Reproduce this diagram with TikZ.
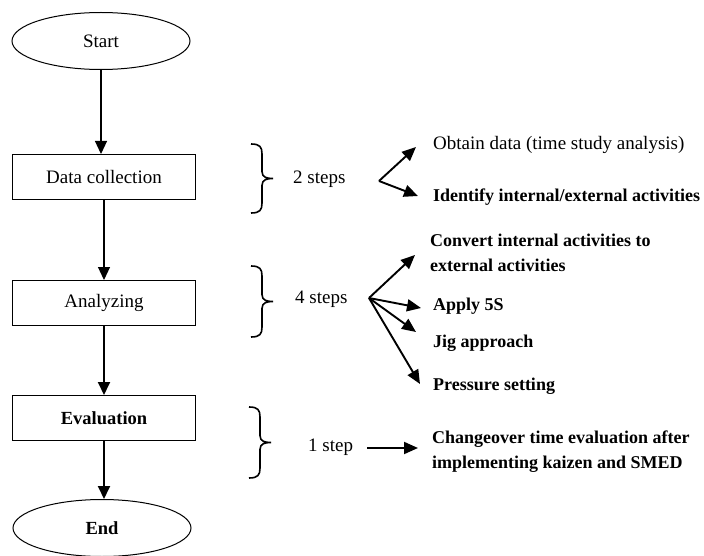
\documentclass[tikz,border=0pt]{standalone}
\usepackage{fontspec}
\setmainfont{Liberation Serif}
\usetikzlibrary{arrows.meta,shapes.geometric}
\newcommand\curlybrace[3]{% x, top, bottom
  \draw[brc] (#1,#2) .. controls ({#1+9},#2) and ({#1+11},{#2+3}) .. ({#1+11},{#2+10})
    -- ({#1+11},{(#2+#3)/2-7}) .. controls ({#1+11},{(#2+#3)/2-1}) and ({#1+16},{(#2+#3)/2}) .. ({#1+22},{(#2+#3)/2})
    .. controls ({#1+16},{(#2+#3)/2}) and ({#1+11},{(#2+#3)/2+1}) .. ({#1+11},{(#2+#3)/2+7})
    -- ({#1+11},{#3-10}) .. controls ({#1+11},{#3-3}) and ({#1+9},#3) .. (#1,#3);}
\begin{document}
\begin{tikzpicture}[x=1pt,y=-1pt,
  proc/.style={draw,line width=1pt,minimum width=183pt,minimum height=45pt,inner sep=0pt,font=\fontsize{19}{22}\selectfont},
  term/.style={draw,ellipse,line width=1pt,minimum width=178pt,minimum height=57pt,inner sep=0pt,font=\fontsize{19}{22}\selectfont},
  flow/.style={line width=1.2pt,-{Triangle[length=13pt,width=12pt]}},
  flowb/.style={line width=1.9pt,-{Triangle[length=13pt,width=12pt]}},
  side/.style={line width=1.9pt,-{Triangle[length=14pt,width=12pt]}},
  brc/.style={line width=1.6pt},
  lbl/.style={anchor=west,inner sep=0pt,font=\fontsize{19}{22}\selectfont},
  lblb/.style={anchor=west,inner sep=0pt,font=\fontsize{18}{25}\selectfont\bfseries,align=left}
]
\useasboundingbox (0,0) rectangle (704,556);
% main flow
\node[term] (start) at (101,41) {Start};
\node[proc] (dc) at (104,177) {Data collection};
\node[proc] (an) at (104,303) {Analyzing};
\node[proc,font=\fontsize{18.5}{22}\selectfont\bfseries] (ev) at (104,418) {Evaluation};
\node[term,font=\fontsize{18.5}{22}\selectfont\bfseries] (end) at (102,528) {End};
\draw[flow] (start) -- (start|-dc.north);
\draw[flow] (dc) -- (dc|-an.north);
\draw[flowb] (an) -- (an|-ev.north);
\draw[flowb] (ev) -- (ev|-end.north);
% braces
\curlybrace{251}{144}{213}
\curlybrace{251}{266}{337}
\curlybrace{249}{407}{478}
\node[lbl] (s2) at (293,179) {2 steps};
\node[lbl] (s4) at (295,299) {4 steps};
\node[lbl] (s1) at (308,447) {1 step};
% targets
\node[lbl] (t1) at (433,145) {Obtain data (time study analysis)};
\node[lblb] (t2) at (433,197) {Identify internal/external activities};
\node[lblb] (t3) at (430,253) {Convert internal activities to\\external activities};
\node[lblb] (t4) at (433,306) {Apply 5S};
\node[lblb] (t5) at (433,343) {Jig approach};
\node[lblb] (t6) at (433,386) {Pressure setting};
\node[lblb] (t7) at (432,452) {Changeover time evaluation after\\implementing kaizen and SMED};
% arrows
\coordinate (o2) at (379,181);
\coordinate (o4) at (369,298);
\coordinate (a1) at (416,147);
\coordinate (a2) at (418,196);
\coordinate (a3) at (415,255);
\coordinate (a4) at (421,308);
\coordinate (a5) at (416,332);
\coordinate (a6) at (420,384);
\draw[side] (o2) -- (a1);
\draw[side] (o2) -- (a2);
\draw[side] (o4) -- (a3);
\draw[side] (o4) -- (a4);
\draw[side] (o4) -- (a5);
\draw[side] (o4) -- (a6);
\coordinate (o1) at (367,448);
\coordinate (a7) at (418,448);
\draw[side] (o1) -- (a7);
\end{tikzpicture}
\end{document}
